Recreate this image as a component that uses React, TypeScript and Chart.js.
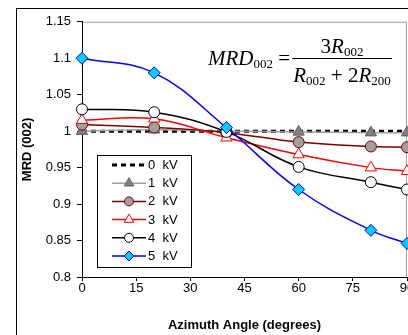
import React, { useEffect, useRef } from "react";
import { Chart, registerables } from "chart.js";

Chart.register(...registerables);

const angles = [0, 20, 40, 60, 80, 90];
const kv0 = [1.0, 1.0, 1.0, 1.0, 1.0, 1.0];
const kv1 = [1.0, 1.002, 1.0, 0.999, 0.998, 0.998];
const kv2 = [1.009, 1.005, 0.998, 0.985, 0.979, 0.978];
const kv3 = [1.015, 1.017, 0.991, 0.968, 0.95, 0.945];
const kv4 = [1.03, 1.026, 0.999, 0.951, 0.93, 0.92];
const kv5 = [1.1, 1.08, 1.005, 0.92, 0.864, 0.846];
const seriesLabels = ["0  kV", "1  kV", "2  kV", "3  kV", "4  kV", "5  kV"];
const xTitle = "Azimuth Angle (degrees)";
const yTitle = "MRD (002)";

const SANS = '"Liberation Sans", Arial, sans-serif';
const SERIF = '"Liberation Serif", "Times New Roman", serif';

const pts = (ys: number[]) => angles.map((x, i) => ({ x, y: ys[i] }));

function marker(ctx: CanvasRenderingContext2D, style: string, x: number, y: number, r: number, fill: string, stroke: string) {
  ctx.save();
  ctx.beginPath();
  if (style === "circle") {
    ctx.arc(x, y, r, 0, Math.PI * 2);
  } else if (style === "triangle") {
    for (let k = 0; k < 3; k++) {
      const a = (k * 2 * Math.PI) / 3;
      const px = x + Math.sin(a) * r;
      const py = y - Math.cos(a) * r;
      if (k === 0) ctx.moveTo(px, py);
      else ctx.lineTo(px, py);
    }
    ctx.closePath();
  } else if (style === "rectRot") {
    ctx.moveTo(x, y - r);
    ctx.lineTo(x + r, y);
    ctx.lineTo(x, y + r);
    ctx.lineTo(x - r, y);
    ctx.closePath();
  }
  ctx.fillStyle = fill;
  ctx.fill();
  ctx.lineWidth = 1;
  ctx.strokeStyle = stroke;
  ctx.stroke();
  ctx.restore();
}

const framePlugin = {
  id: "frame",
  beforeDraw(chart: any) {
    const ctx = chart.ctx;
    ctx.save();
    ctx.fillStyle = "#ffffff";
    ctx.fillRect(0, 0, chart.width, chart.height);
    ctx.strokeStyle = "#000000";
    ctx.lineWidth = 1;
    ctx.strokeRect(8.5, 0.5, chart.width + 20, chart.height + 20);
    const a = chart.chartArea;
    ctx.strokeStyle = "#a0a0a0";
    ctx.beginPath();
    ctx.moveTo(a.left, a.top + 0.5);
    ctx.lineTo(a.right - 0.5, a.top + 0.5);
    ctx.lineTo(a.right - 0.5, a.bottom);
    ctx.stroke();
    ctx.restore();
  },
};

type Run = { t: string; font: string; dy: number };

function drawRuns(ctx: CanvasRenderingContext2D, runs: Run[], x0: number, baseline: number, center: boolean) {
  const widths = runs.map((r) => {
    ctx.font = r.font;
    return ctx.measureText(r.t).width;
  });
  const total = widths.reduce((s, w) => s + w, 0);
  let x = center ? x0 - total / 2 : x0;
  ctx.textBaseline = "alphabetic";
  ctx.textAlign = "left";
  runs.forEach((r, i) => {
    ctx.font = r.font;
    ctx.fillText(r.t, x, baseline + r.dy);
    x += widths[i];
  });
  return total;
}

const formulaPlugin = {
  id: "formula",
  afterDraw(chart: any) {
    const ctx = chart.ctx as CanvasRenderingContext2D;
    ctx.save();
    ctx.fillStyle = "#000000";
    const big = `21px ${SERIF}`;
    const it = `italic 21px ${SERIF}`;
    const sub = `13px ${SERIF}`;
    drawRuns(
      ctx,
      [
        { t: "MRD", font: it, dy: 0 },
        { t: "002", font: sub, dy: 3 },
        { t: " =", font: big, dy: 0 },
      ],
      200,
      57,
      false
    );
    ctx.strokeStyle = "#000000";
    ctx.lineWidth = 1;
    ctx.beginPath();
    ctx.moveTo(284, 50.5);
    ctx.lineTo(384, 50.5);
    ctx.stroke();
    drawRuns(
      ctx,
      [
        { t: "3", font: big, dy: 0 },
        { t: "R", font: it, dy: 0 },
        { t: "002", font: sub, dy: 3 },
      ],
      334,
      45,
      true
    );
    drawRuns(
      ctx,
      [
        { t: "R", font: it, dy: 0 },
        { t: "002", font: sub, dy: 3 },
        { t: " + 2", font: big, dy: 0 },
        { t: "R", font: it, dy: 0 },
        { t: "200", font: sub, dy: 3 },
      ],
      334,
      74,
      true
    );
    ctx.restore();
  },
};

const legendPlugin = {
  id: "customLegend",
  afterDraw(chart: any) {
    const ctx = chart.ctx as CanvasRenderingContext2D;
    ctx.save();
    ctx.fillStyle = "#ffffff";
    ctx.fillRect(89.5, 147.5, 94, 112);
    ctx.strokeStyle = "#000000";
    ctx.lineWidth = 1;
    ctx.strokeRect(89.5, 147.5, 94, 112);
    chart.data.datasets.forEach((ds: any, i: number) => {
      const y = 157 + i * 18.2;
      ctx.save();
      ctx.strokeStyle = ds.borderColor;
      ctx.lineWidth = ds.borderWidth;
      ctx.setLineDash(ds.borderDash || []);
      ctx.beginPath();
      ctx.moveTo(104, y);
      ctx.lineTo(138, y);
      ctx.stroke();
      ctx.restore();
      if (ds.pointRadius > 0) {
        marker(ctx, ds.pointStyle, 121, y, ds.legendRadius, ds.pointBackgroundColor, ds.pointBorderColor);
      }
      ctx.fillStyle = "#000000";
      ctx.font = `13px ${SANS}`;
      ctx.textAlign = "left";
      ctx.textBaseline = "middle";
      ctx.fillText(ds.label, 140, y + 0.5);
    });
    ctx.restore();
  },
};

export default function App() {
  const ref = useRef<HTMLCanvasElement>(null);
  useEffect(() => {
    if (!ref.current) return;
    const mk = (i: number, ys: number[], color: string, width: number, style: string, r: number, lr: number, fill: string, stroke: string, dash?: number[]) => ({
      label: seriesLabels[i],
      data: pts(ys),
      borderColor: color,
      borderWidth: width,
      borderDash: dash,
      pointStyle: style,
      pointRadius: r,
      pointHoverRadius: r,
      legendRadius: lr,
      pointBackgroundColor: fill,
      pointBorderColor: stroke,
      pointBorderWidth: 1,
      backgroundColor: fill,
      tension: dash ? 0 : 0.4,
      fill: false,
      clip: false as any,
      order: 5 - i,
    });
    const chart = new Chart(ref.current, {
      type: "line",
      data: {
        datasets: [
          mk(0, kv0, "#000000", 3, "circle", 0, 0, "#000000", "#000000", [5, 4]),
          mk(1, kv1, "#a0a0a0", 1.5, "triangle", 6.5, 5.5, "#808080", "#606060"),
          mk(2, kv2, "#800000", 1.5, "circle", 5.5, 4.5, "#a0a0a0", "#800000"),
          mk(3, kv3, "#ff0000", 1.5, "triangle", 6.5, 5.5, "#ffffff", "#ff0000"),
          mk(4, kv4, "#000000", 1.5, "circle", 5.5, 4.5, "#ffffff", "#000000"),
          mk(5, kv5, "#0000ff", 1.5, "rectRot", 6, 5, "#00ccff", "#0000ff"),
        ] as any,
      },
      options: {
        animation: false,
        responsive: false,
        devicePixelRatio: 1,
        layout: { padding: { left: 0, top: 12, right: 41, bottom: 11 } },
        plugins: { legend: { display: false }, tooltip: { enabled: false } },
        scales: {
          x: {
            type: "linear",
            min: 0,
            max: 90,
            ticks: { stepSize: 15, color: "#000000", font: { family: SANS, size: 13 }, padding: 0, maxRotation: 0 },
            grid: { drawOnChartArea: false, drawTicks: true, tickLength: 4, color: "#000000" },
            border: { display: true, color: "#000000", width: 1 },
            title: { display: true, text: xTitle, color: "#000000", font: { family: SANS, size: 13, weight: "bold" }, padding: { top: 0, bottom: 4 } },
            afterFit: (s: any) => {
              s.height = 60;
            },
          },
          y: {
            min: 0.8,
            max: 1.15,
            ticks: {
              stepSize: 0.05,
              color: "#000000",
              font: { family: SANS, size: 13 },
              padding: 6,
              callback: (v: any) => String(Math.round(Number(v) * 100) / 100),
            },
            grid: { drawOnChartArea: false, drawTicks: true, tickLength: 5, color: "#000000" },
            border: { display: true, color: "#000000", width: 1 },
            title: { display: true, text: yTitle, color: "#000000", font: { family: SANS, size: 13, weight: "bold" }, padding: { top: 12, bottom: 0 } },
            afterFit: (s: any) => {
              s.width = 74;
            },
          },
        },
      } as any,
      plugins: [framePlugin, formulaPlugin, legendPlugin],
    });
    return () => chart.destroy();
  }, []);
  return (
    <div style={{ position: "absolute", left: 8, top: 8, width: 400, height: 327, overflow: "hidden" }}>
      <canvas ref={ref} width={440} height={340} style={{ width: 440, height: 340, display: "block" }} />
    </div>
  );
}
